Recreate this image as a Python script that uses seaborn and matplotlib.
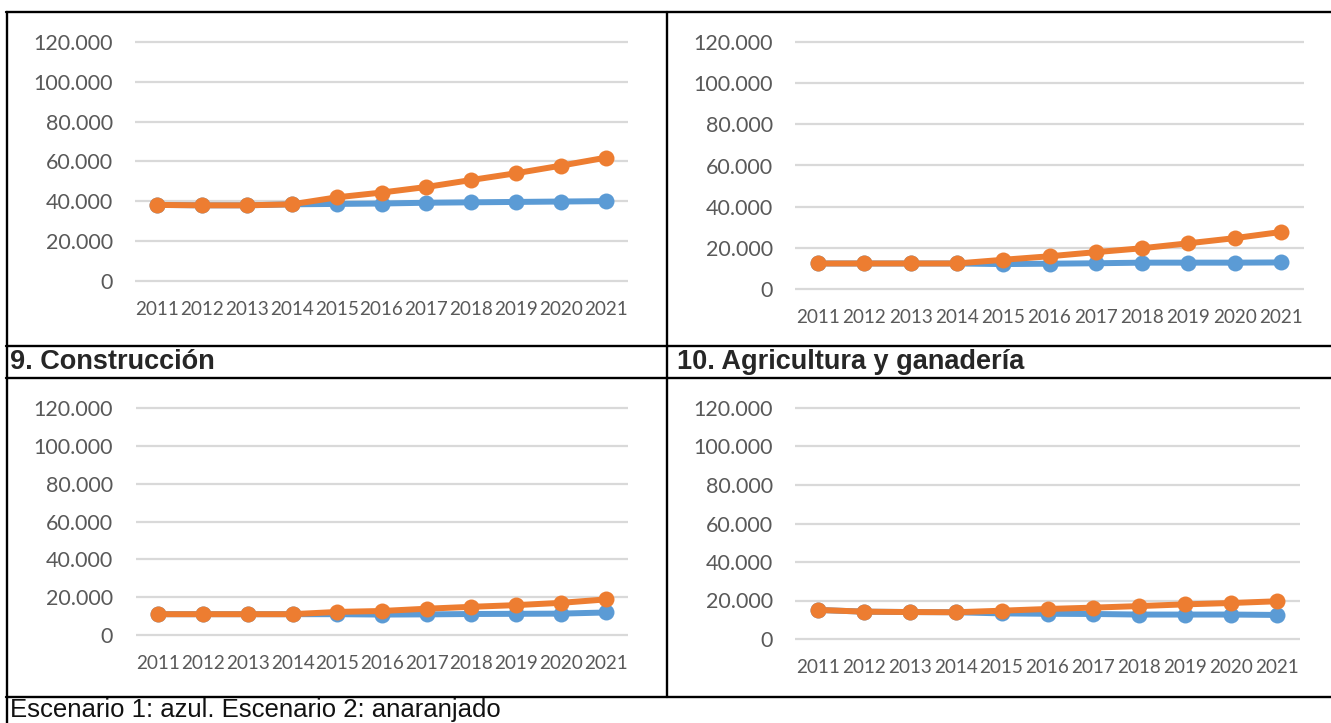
import matplotlib
matplotlib.use("Agg")
import matplotlib.pyplot as plt
from matplotlib.ticker import FuncFormatter
from matplotlib.lines import Line2D
import seaborn as sns
import pandas as pd

# --- data -------------------------------------------------------------
years = [2011, 2012, 2013, 2014, 2015, 2016, 2017, 2018, 2019, 2020, 2021]
scenarios = ["Escenario 1", "Escenario 2"]

top_left_esc1 = [38200, 38000, 38000, 38500, 38700, 38900, 39300, 39500, 39700, 39900, 40100]
top_left_esc2 = [38200, 38000, 38000, 38500, 42000, 44400, 47200, 50700, 54100, 57900, 61900]

top_right_esc1 = [12400, 12400, 12400, 12400, 12100, 12300, 12500, 12800, 12800, 12800, 12900]
top_right_esc2 = [12400, 12400, 12400, 12400, 14200, 15900, 17900, 19800, 22200, 24700, 27700]

construccion_esc1 = [11000, 11000, 11000, 11000, 11000, 10800, 10900, 11100, 11200, 11300, 11900]
construccion_esc2 = [11000, 11000, 11000, 11000, 12200, 12700, 13900, 14900, 15800, 17000, 18800]

agricultura_esc1 = [15100, 14200, 14000, 13900, 13300, 13100, 13000, 12700, 12700, 12700, 12500]
agricultura_esc2 = [15100, 14200, 14000, 13900, 14700, 15600, 16300, 17100, 18000, 18700, 19600]

header_left = "9. Construcción"
header_right = "10. Agricultura y ganadería"
footer_text = "Escenario 1: azul. Escenario 2: anaranjado"

y_ticks = [0, 20000, 40000, 60000, 80000, 100000, 120000]

# --- style --------------------------------------------------------------
sns.set_style("white")
plt.rcParams["font.family"] = ["Lato", "DejaVu Sans"]

BLUE = "#5B9BD5"
ORANGE = "#ED7D31"
GRID = "#D9D9D9"
TICK = "#595959"

W, H = 1331, 723
fig = plt.figure(figsize=(W / 100, H / 100), dpi=100)
fig.patch.set_facecolor("white")


def long_frame(esc1, esc2):
    return pd.DataFrame({
        "year": years * 2,
        "value": esc1 + esc2,
        "escenario": [scenarios[0]] * len(years) + [scenarios[1]] * len(years),
    })


def thousands(v, _pos):
    return f"{int(round(v)):,}".replace(",", ".")


def panel(esc1, esc2, x0, x1, y_top, y_zero, ypad_px, xpad_px):
    pad = 3  # extra pixels so the outer gridlines are not clipped
    per_px = 120000 / (y_zero - y_top)
    rect = [x0 / W, 1 - (y_zero + pad) / H, (x1 - x0) / W, (y_zero - y_top + 2 * pad) / H]
    ax = fig.add_axes(rect)
    sns.lineplot(
        data=long_frame(esc1, esc2), x="year", y="value", hue="escenario",
        hue_order=scenarios, palette=[BLUE, ORANGE], marker="o",
        markersize=11.5, markeredgewidth=0, linewidth=4.3, legend=False,
        ax=ax, zorder=3,
    )
    ax.set_xlim(years[0] - 0.5, years[-1] + 0.5)
    ax.set_ylim(-pad * per_px, 120000 + pad * per_px)
    ax.set_yticks(y_ticks)
    ax.yaxis.set_major_formatter(FuncFormatter(thousands))
    ax.set_xticks(years)
    ax.set_xticklabels([str(y) for y in years])
    ax.grid(axis="y", color=GRID, linewidth=1.6)
    ax.grid(axis="x", visible=False)
    ax.set_axisbelow(True)
    for s in ax.spines.values():
        s.set_visible(False)
    ax.set_xlabel("")
    ax.set_ylabel("")
    ax.tick_params(axis="y", length=0, pad=ypad_px * 0.72, labelsize=15.5, labelcolor=TICK)
    ax.tick_params(axis="x", length=0, pad=xpad_px * 0.72, labelsize=13.6, labelcolor=TICK)
    ax.set_facecolor("none")
    return ax


panel(top_left_esc1, top_left_esc2, 135, 628, 42, 281, 22, 17)
panel(top_right_esc1, top_right_esc2, 795, 1304, 42, 289, 22, 17)
panel(construccion_esc1, construccion_esc2, 136, 628, 408, 635, 23, 17)
panel(agricultura_esc1, agricultura_esc2, 795, 1300, 408, 639, 22, 17)

# --- table frame --------------------------------------------------------
def hline(y, xa, xb):
    fig.add_artist(Line2D([xa / W, xb / W], [1 - y / H, 1 - y / H], color="black", linewidth=1.7))


def vline(x, ya, yb):
    fig.add_artist(Line2D([x / W, x / W], [1 - ya / H, 1 - yb / H], color="black", linewidth=1.7))


hline(12, 6, W)
hline(346, 6, W)
hline(378, 6, W)
hline(697, 6, W)
vline(7, 12, H)
vline(667, 12, 697)

fig.text(10 / W, 1 - 362 / H, header_left, ha="left", va="center",
         fontsize=19.5, fontweight="bold", family=["Liberation Sans", "DejaVu Sans"])
fig.text(677 / W, 1 - 362 / H, header_right, ha="left", va="center",
         fontsize=19.5, fontweight="bold", family=["Liberation Sans", "DejaVu Sans"])
fig.text(10 / W, 1 - 716.5 / H, footer_text, ha="left", va="baseline",
         fontsize=18.5, family=["Liberation Sans", "DejaVu Sans"], color="#111111")

fig.savefig("out.png", dpi=100, facecolor="white")
